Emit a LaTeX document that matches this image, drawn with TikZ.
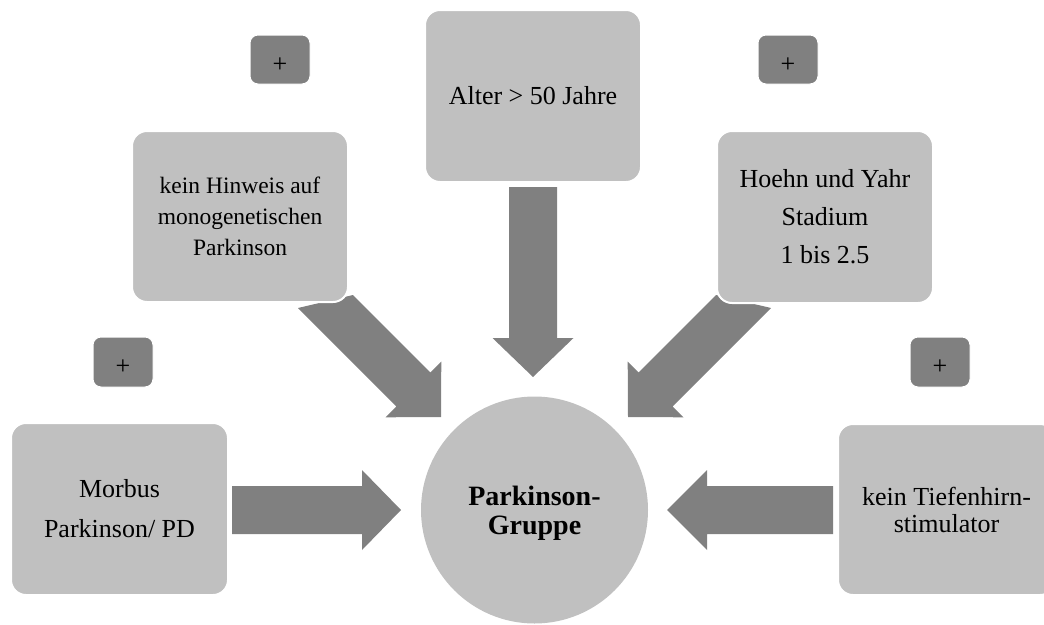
\documentclass[tikz,border=0pt]{standalone}
\usepackage{fontspec}
\setmainfont{Liberation Serif}
\definecolor{boxgray}{HTML}{C0C0C0}
\definecolor{arrowgray}{HTML}{808080}
\begin{document}
\begin{tikzpicture}[x=1pt,y=-1pt,
  criterion/.style={rectangle, rounded corners=15pt, fill=boxgray, draw=white,
    line width=2pt, minimum width=216pt, minimum height=172pt, inner sep=4pt,
    align=center},
  plusbox/.style={rectangle, rounded corners=8pt, fill=arrowgray, draw=white,
    line width=1pt, minimum width=60pt, minimum height=50pt, inner sep=0pt,
    text height=25pt, text depth=0pt, font=\fontsize{26}{30}\selectfont},
  hub/.style={circle, fill=boxgray, minimum size=227pt, inner sep=0pt,
    align=center, text depth=0pt, font=\bfseries\fontsize{28}{29}\selectfont},
  blockarrow/.style={fill=arrowgray}
]
\useasboundingbox (0,0) rectangle (1044,624);
\clip (0,0) rectangle (1044,624);

% block arrows pointing at the central group
\fill[blockarrow] (232,486) -- (362,486) -- (362,470) -- (401,510) -- (362,550)
  -- (362,534) -- (232,534) -- cycle;
\fill[blockarrow] (833,486) -- (707,486) -- (707,470) -- (667,510) -- (707,550)
  -- (707,534) -- (833,534) -- cycle;
\fill[blockarrow] (509,187) -- (557,187) -- (557,338) -- (573.5,338) -- (533,377)
  -- (492.5,338) -- (509,338) -- cycle;
\fill[blockarrow] (298,308) -- (353,295) -- (430.4,372.4) -- (441.3,361.5)
  -- (441,417) -- (385.5,417.3) -- (396.4,406.4) -- cycle;
\fill[blockarrow] (771,308) -- (716,295) -- (638.6,372.4) -- (627.7,361.5)
  -- (628,417) -- (683.5,417.3) -- (672.6,406.4) -- cycle;

% criteria
\node[criterion, minimum width=217pt, font=\fontsize{26}{40}\selectfont]
  (morbus) at (119.5,509) {Morbus\\Parkinson/ PD};
\node[criterion, minimum height=171pt, font=\fontsize{23.5}{31}\selectfont]
  (hinweis) at (240,216.5) {kein Hinweis auf\\monogenetischen\\Parkinson};
\node[criterion, font=\fontsize{26}{40}\selectfont]
  (alter) at (533,96) {Alter > 50 Jahre};
\node[criterion, font=\fontsize{26}{38}\selectfont]
  (hoehn) at (825,217) {Hoehn und Yahr\\Stadium\\1 bis 2.5};
\node[criterion, minimum width=217pt, minimum height=171pt,
  font=\fontsize{26}{27}\selectfont]
  (tief) at (946.5,509.5) {kein Tiefenhirn-\\stimulator};

% plus signs
\node[plusbox] (plusA) at (123,362) {+};
\node[plusbox, minimum height=49pt] (plusB) at (280,59.5) {+};
\node[plusbox, minimum height=49pt] (plusC) at (788,59.5) {+};
\node[plusbox] (plusD) at (940,362) {+};

% central group
\node[hub] (gruppe) at (534.5,510) {Parkinson-\\Gruppe};
\end{tikzpicture}
\end{document}
